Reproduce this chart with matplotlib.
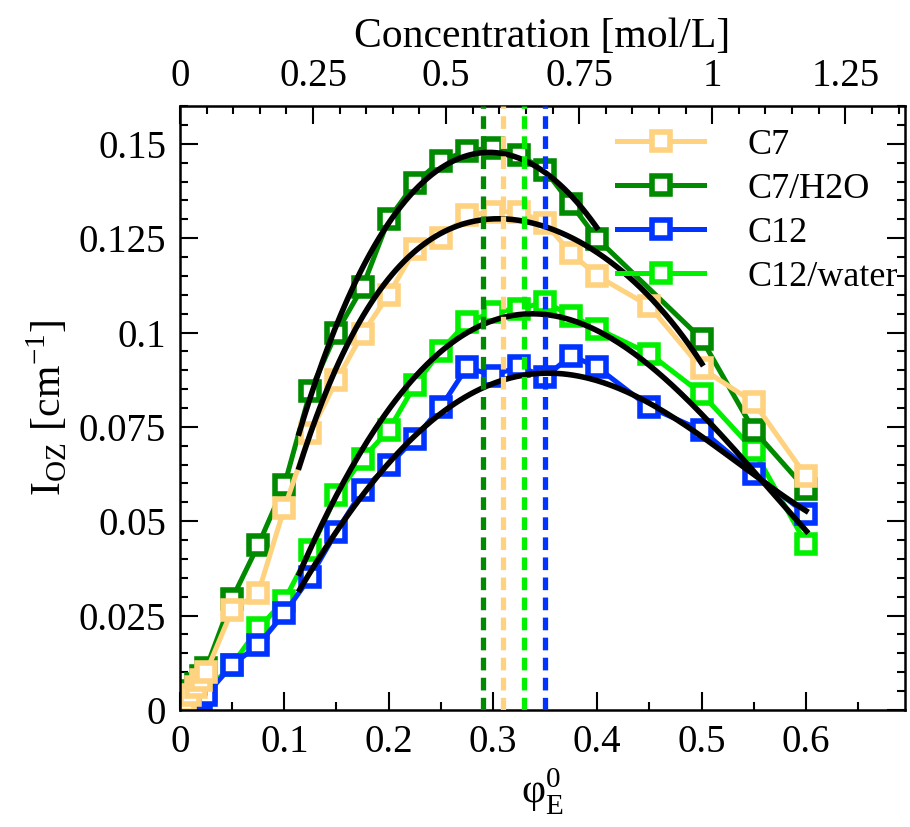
import numpy as np
import matplotlib
matplotlib.use("Agg")
import matplotlib.pyplot as plt
from matplotlib.ticker import MultipleLocator

plt.rcParams['font.family'] = ['Liberation Serif', 'DejaVu Serif']
plt.rcParams['mathtext.fontset'] = 'stix'

# ---------------- measured data ----------------
x_c7 = [0.005, 0.01, 0.015, 0.02, 0.025, 0.05, 0.075, 0.1, 0.125, 0.15, 0.175, 0.2,
        0.225, 0.25, 0.275, 0.3, 0.325, 0.35, 0.375, 0.4, 0.45, 0.5, 0.55, 0.6]
y_c7 = [0.002, 0.004, 0.006, 0.008, 0.010, 0.0265, 0.031, 0.0535, 0.0735, 0.0873, 0.0997, 0.110,
        0.122, 0.125, 0.131, 0.132, 0.132, 0.129, 0.121, 0.115, 0.107, 0.0905, 0.0815, 0.062]

x_c7w = [0.005, 0.01, 0.015, 0.02, 0.025, 0.05, 0.075, 0.1, 0.125, 0.15, 0.175, 0.2,
         0.225, 0.25, 0.275, 0.3, 0.325, 0.35, 0.375, 0.4, 0.5, 0.55, 0.6]
y_c7w = [0.003, 0.005, 0.007, 0.009, 0.011, 0.0295, 0.0437, 0.0595, 0.0845, 0.100, 0.112, 0.130,
         0.1395, 0.1455, 0.148, 0.149, 0.147, 0.143, 0.134, 0.1248, 0.0983, 0.0741, 0.0585]

x_c12 = [0.005, 0.01, 0.015, 0.02, 0.025, 0.05, 0.075, 0.1, 0.125, 0.15, 0.175, 0.2,
         0.225, 0.25, 0.275, 0.3, 0.325, 0.35, 0.375, 0.4, 0.45, 0.5, 0.55, 0.6]
y_c12 = [0.001, 0.0015, 0.002, 0.003, 0.004, 0.0119, 0.0172, 0.0256, 0.0353, 0.0472, 0.0582, 0.0648,
         0.0719, 0.0802, 0.0908, 0.0886, 0.0910, 0.0882, 0.0939, 0.0908, 0.0802, 0.0741, 0.0626, 0.052]

x_c12w = [0.005, 0.01, 0.015, 0.02, 0.025, 0.05, 0.075, 0.1, 0.125, 0.15, 0.175, 0.2,
          0.225, 0.25, 0.275, 0.3, 0.325, 0.35, 0.375, 0.4, 0.45, 0.5, 0.55, 0.6]
y_c12w = [0.001, 0.002, 0.003, 0.004, 0.005, 0.0120, 0.0216, 0.029, 0.0423, 0.0569, 0.0666, 0.0741,
          0.086, 0.0952, 0.1027, 0.1054, 0.1063, 0.108, 0.1045, 0.101, 0.0944, 0.0838, 0.0688, 0.0441]

# ---------------- fitted curves ----------------
fx_c7 = [0.1134, 0.131, 0.1598, 0.1918, 0.2237, 0.2557, 0.2813, 0.3037, 0.3387, 0.3707,
         0.4027, 0.4346, 0.4666, 0.5017]
fy_c7 = [0.0639, 0.0780, 0.0955, 0.1111, 0.1218, 0.1276, 0.1296, 0.1300, 0.1285, 0.1252,
         0.1208, 0.1138, 0.1049, 0.0908]

fx_c7w = [0.1134, 0.1198, 0.1438, 0.1758, 0.1918, 0.2077, 0.2397, 0.2685, 0.2908, 0.3196,
          0.3516, 0.3835, 0.401]
fy_c7w = [0.0727, 0.0780, 0.0985, 0.1173, 0.1245, 0.1323, 0.1420, 0.1464, 0.1475, 0.1464,
          0.1420, 0.1340, 0.1270]

fx_c12 = [0.1134, 0.147, 0.179, 0.211, 0.243, 0.2716, 0.3037, 0.3356, 0.3675, 0.4027,
          0.4346, 0.4986, 0.5625, 0.6024]
fy_c12 = [0.0315, 0.0459, 0.0582, 0.0683, 0.0767, 0.0832, 0.0877, 0.0891, 0.0889, 0.0864,
          0.0822, 0.0745, 0.0591, 0.0525]

fx_c12w = [0.1134, 0.1278, 0.1438, 0.1598, 0.187, 0.2077, 0.2397, 0.2716, 0.3037, 0.3356,
           0.3675, 0.3995, 0.4346, 0.4666, 0.4986, 0.5305, 0.5625, 0.6024]
fy_c12w = [0.0362, 0.0450, 0.0529, 0.0600, 0.0741, 0.0830, 0.0935, 0.1000, 0.1036, 0.1045,
           0.1032, 0.1005, 0.0939, 0.0880, 0.0789, 0.0697, 0.0591, 0.0467]

labels = ["C7", "C7/H2O", "C12", "C12/water"]
colors = ["#FFD27F", "#008A00", "#0033FF", "#00F000"]
peak_pos = [0.31, 0.29, 0.35, 0.33]   # maxima of the fits (dashed lines)
conc_per_phi = 1.96                   # mol/L per unit volume fraction (top axis)

xs = [x_c7, x_c7w, x_c12, x_c12w]
ys = [y_c7, y_c7w, y_c12, y_c12w]
fxs = [fx_c7, fx_c7w, fx_c12, fx_c12w]
fys = [fy_c7, fy_c7w, fy_c12, fy_c12w]

# ---------------- figure ----------------
fig = plt.figure(figsize=(9.10, 8.27), dpi=100)
ax = fig.add_axes([0.1978, 0.1415, 0.7967, 0.7303])

draw_order = [3, 2, 1, 0]
handles = {}
for i in draw_order:
    h, = ax.plot(xs[i], ys[i], '-', color=colors[i], lw=3.6, marker='s', ms=12.5,
                 mfc='white', mec=colors[i], mew=4.0, zorder=2 + (3 - i) * 0.1,
                 label=labels[i])
    handles[i] = h

# smooth fit curves through the values
for i in range(4):
    fx = np.asarray(fxs[i]); fy = np.asarray(fys[i])
    p = np.polyfit(fx, fy, 4)
    xf = np.linspace(fx[0], fx[-1], 200)
    ax.plot(xf, np.polyval(p, xf), color='black', lw=4.0, zorder=4, solid_capstyle='butt')

for i in range(4):
    ax.axvline(peak_pos[i], color=colors[i], lw=3.8, ls=(0, (2.4, 1.4)), zorder=5)

ax.set_xlim(0, 0.695)
ax.set_ylim(0, 0.16)
ax.xaxis.set_minor_locator(MultipleLocator(0.05))
ax.yaxis.set_minor_locator(MultipleLocator(0.005))
ax.set_xticks([0, 0.1, 0.2, 0.3, 0.4, 0.5, 0.6])
ax.set_xticklabels(["0", "0.1", "0.2", "0.3", "0.4", "0.5", "0.6"])
ax.set_yticks([0, 0.025, 0.05, 0.075, 0.1, 0.125, 0.15])
ax.set_yticklabels(["0", "0.025", "0.05", "0.075", "0.1", "0.125", "0.15"])
ax.tick_params(which='both', direction='in', top=False, right=True, width=1.5,
               labelsize=28, pad=10)
ax.tick_params(which='major', length=13)
ax.tick_params(which='minor', length=6)
for s in ax.spines.values():
    s.set_linewidth(1.8)

sec = ax.secondary_xaxis('top', functions=(lambda p: p * conc_per_phi,
                                           lambda c: c / conc_per_phi))
sec.set_xticks([0, 0.25, 0.5, 0.75, 1.0, 1.25])
sec.set_xticklabels(["0", "0.25", "0.5", "0.75", "1", "1.25"])
sec.xaxis.set_minor_locator(MultipleLocator(0.05))
sec.tick_params(which='both', direction='in', width=1.5, labelsize=28, pad=8)
sec.tick_params(which='major', length=13)
sec.tick_params(which='minor', length=6)
sec.set_xlabel("Concentration [mol/L]", fontsize=30, labelpad=8)

ax.set_xlabel(r"φ$_\mathregular{E}^\mathregular{0}$", fontsize=30, labelpad=4)
ax.set_ylabel(r"I$_\mathregular{OZ}$ [cm$^\mathregular{-1}$]", fontsize=30, labelpad=6)

leg = ax.legend([handles[0], handles[1], handles[2], handles[3]], labels,
                loc='upper right', bbox_to_anchor=(1.025, 1.005), frameon=False,
                fontsize=26, handlelength=2.4, handletextpad=1.2, labelspacing=0.3,
                borderaxespad=0.3)

fig.savefig("out.png", dpi=100)
